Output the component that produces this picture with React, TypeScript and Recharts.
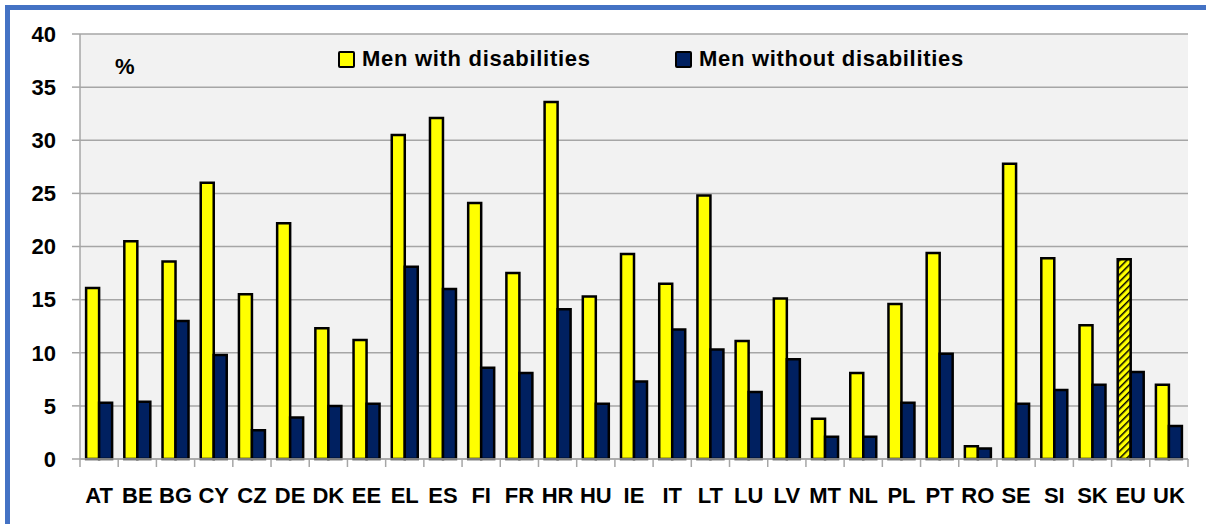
import { BarChart, Bar, XAxis, YAxis, CartesianGrid, Cell } from "recharts";

const countries = [
  "AT", "BE", "BG", "CY", "CZ", "DE", "DK", "EE", "EL", "ES", "FI", "FR", "HR", "HU", "IE",
  "IT", "LT", "LU", "LV", "MT", "NL", "PL", "PT", "RO", "SE", "SI", "SK", "EU", "UK",
];

const withDisabilities = [
  16.1, 20.5, 18.6, 26.0, 15.5, 22.2, 12.3, 11.2, 30.5, 32.1, 24.1, 17.5, 33.6, 15.3, 19.3,
  16.5, 24.8, 11.1, 15.1, 3.8, 8.1, 14.6, 19.4, 1.2, 27.8, 18.9, 12.6, 18.8, 7.0,
];

const withoutDisabilities = [
  5.3, 5.4, 13.0, 9.8, 2.7, 3.9, 5.0, 5.2, 18.1, 16.0, 8.6, 8.1, 14.1, 5.2, 7.3,
  12.2, 10.3, 6.3, 9.4, 2.1, 2.1, 5.3, 9.9, 1.0, 5.2, 6.5, 7.0, 8.2, 3.1,
];

const yTicks = [0, 5, 10, 15, 20, 25, 30, 35, 40];

const seriesNames = ["Men with disabilities", "Men without disabilities"];

const data = countries.map((c, i) => ({
  country: c,
  with: withDisabilities[i],
  without: withoutDisabilities[i],
}));

const W = 1206;
const H = 524;
const PLOT_LEFT = 80;
const PLOT_RIGHT = 18;
const BAND = (W - PLOT_LEFT - PLOT_RIGHT) / countries.length;
const FONT = "'Liberation Sans', Arial, sans-serif";
const GRID = "#a6a6a6";
const YELLOW = "#ffff00";
const NAVY = "#002060";

function CountryTick(props: any) {
  const { x, y, payload, index } = props;
  const left = x - BAND / 2;
  const last = index === countries.length - 1;
  return (
    <g>
      <line x1={left} x2={left} y1={y - 8} y2={y} stroke={GRID} strokeWidth={1.5} />
      {last && (
        <line x1={left + BAND} x2={left + BAND} y1={y - 8} y2={y} stroke={GRID} strokeWidth={1.5} />
      )}
      <text
        x={x}
        y={y + 36}
        textAnchor="middle"
        fill="#000"
        fontFamily={FONT}
        fontWeight="bold"
        fontSize={22}
      >
        {payload.value}
      </text>
    </g>
  );
}

function LegendItem({ left, color, label }: { left: number; color: string; label: string }) {
  return (
    <>
      <div
        style={{
          position: "absolute",
          left,
          top: 51,
          width: 17,
          height: 17,
          boxSizing: "border-box",
          border: "2px solid #000",
          borderRadius: 2,
          background: color,
        }}
      />
      <div
        style={{
          position: "absolute",
          left: left + 24,
          top: 48,
          fontFamily: FONT,
          fontWeight: "bold",
          fontSize: 22,
          lineHeight: "22px",
          letterSpacing: 0.7,
          color: "#000",
          whiteSpace: "nowrap",
        }}
      >
        {label}
      </div>
    </>
  );
}

export default function App() {
  return (
    <div
      style={{
        position: "absolute",
        left: 0,
        top: 0,
        width: W,
        height: H,
        overflow: "hidden",
        background: "#fff",
      }}
    >
      <div
        style={{
          position: "absolute",
          left: 5,
          top: 5,
          width: W + 50,
          height: H + 50,
          borderTop: "5px solid #4472c4",
          borderLeft: "5px solid #4472c4",
        }}
      />
      <svg width={0} height={0} style={{ position: "absolute" }}>
        <defs>
          <pattern id="hatch" width={5} height={5} patternUnits="userSpaceOnUse" patternTransform="rotate(45)">
            <rect width={5} height={5} fill={YELLOW} />
            <line x1={0} y1={0} x2={0} y2={5} stroke="#000" strokeWidth={3} />
          </pattern>
        </defs>
      </svg>
      <div style={{ position: "absolute", left: 0, top: 0 }}>
        <BarChart
          width={W}
          height={H}
          data={data}
          margin={{ top: 34, right: PLOT_RIGHT, bottom: 0, left: 0 }}
          barCategoryGap="16%"
          barGap={0}
        >
          <CartesianGrid
            vertical={false}
            stroke={GRID}
            strokeWidth={1.5}
            fill="#f2f2f2"
            fillOpacity={1}
          />
          <XAxis
            dataKey="country"
            interval={0}
            height={65}
            tickSize={8}
            tickMargin={0}
            tickLine={false}
            axisLine={{ stroke: GRID, strokeWidth: 1.5 }}
            tick={<CountryTick />}
          />
          <YAxis
            domain={[0, 40]}
            ticks={yTicks}
            width={PLOT_LEFT}
            tickSize={8}
            tickMargin={16}
            tickLine={{ stroke: GRID, strokeWidth: 1.5 }}
            axisLine={{ stroke: GRID, strokeWidth: 1.5 }}
            tick={{ fill: "#000", fontSize: 22, fontWeight: "bold", fontFamily: FONT }}
          />
          <Bar dataKey="with" name={seriesNames[0]} fill={YELLOW} stroke="#000" strokeWidth={2.5} isAnimationActive={false}>
            {data.map((d, i) => (
              <Cell key={i} fill={d.country === "EU" ? "url(#hatch)" : YELLOW} />
            ))}
          </Bar>
          <Bar dataKey="without" name={seriesNames[1]} fill={NAVY} stroke="#000" strokeWidth={2.5} isAnimationActive={false} />
        </BarChart>
      </div>
      <div
        style={{
          position: "absolute",
          left: 115,
          top: 56,
          fontFamily: FONT,
          fontWeight: "bold",
          fontSize: 22,
          lineHeight: "22px",
          color: "#000",
        }}
      >
        %
      </div>
      <LegendItem left={338} color={YELLOW} label={seriesNames[0]} />
      <LegendItem left={675} color={NAVY} label={seriesNames[1]} />
    </div>
  );
}
